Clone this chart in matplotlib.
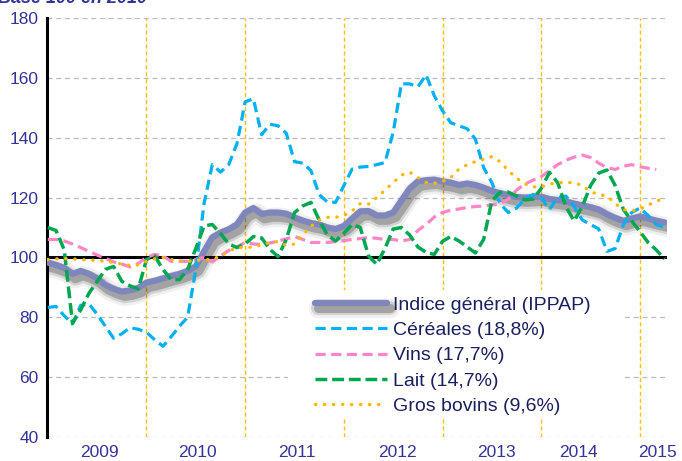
import numpy as np
import matplotlib.pyplot as plt
import matplotlib.patheffects as pe
from matplotlib.patches import Rectangle

# monthly index values, Jan 2009 = month 0
cereales = [83.3, 83.6, 80.5, 77.8, 84, 84.5, 81, 77, 73, 74.5, 76.5, 76,
            75, 72.5, 70.3, 73.5, 77, 80, 96, 118, 131, 128.5, 131, 138,
            152, 153, 141, 144.5, 144, 141.5, 132, 131.5, 129, 121, 118.5, 118.4,
            124, 129.5, 130.2, 130.4, 131, 131.7, 141.8, 158, 158, 157, 161, 154,
            149, 145, 144, 143, 139.5, 130, 125, 118, 115, 116.5, 119.5, 121,
            120, 116, 120, 120.5, 117, 112.5, 111, 109.5, 102, 103, 111, 115,
            116.5, 114, 111, 110]

ippap = [98.3, 97.5, 96.5, 94.5, 95.5, 94.5, 93, 90.8, 89.5, 88.6, 89, 89.8,
         91.6, 92.2, 93, 93.8, 94.5, 95.5, 97, 102, 106.7, 108.3, 109.4, 111,
         115, 116.5, 114.5, 115, 115, 114.6, 113.3, 112.3, 111.5, 111, 110, 109.5,
         110.5, 113, 115.4, 115.5, 114, 114, 115, 119, 123, 125.4, 125.8, 126,
         125.4, 125, 124.2, 124.7, 124.2, 123.3, 122.2, 121.5, 120.8, 120.2, 120, 120.2,
         120.3, 119.5, 119.2, 118.7, 118, 117.4, 116.8, 116, 114.4, 113.2, 112.2, 113,
         113.7, 113, 112.3, 111.7]

vins = [106, 106, 105.5, 104.5, 103.3, 102, 100.8, 99.7, 98.5, 97.8, 96.8, 98,
        100, 101, 100.5, 98.7, 98.7, 98.7, 99.3, 100, 98.5, 100.5, 102.3, 103.5,
        105, 104.5, 104.3, 104.8, 105.5, 106.2, 107, 106, 105, 105, 105, 105.3,
        105.6, 106, 106.3, 106.7, 106.4, 106, 106, 105.5, 106, 109, 111, 113.5,
        115, 115.8, 116.2, 116.7, 117, 117.2, 117.5, 118, 119.5, 122.5, 124.5, 125.8,
        127, 129, 131, 132.5, 133.5, 134.2, 133.4, 131.5, 130, 129.4, 130.5, 131,
        130.3, 129.8, 129.4]

lait = [110, 109, 102.5, 78, 82.5, 88, 92, 96, 97, 92, 90.5, 89.5,
        99.3, 100.5, 96, 92.6, 92.6, 96, 103, 110.5, 111, 108, 104.5, 103.3,
        104.5, 107, 106.5, 102.7, 100.3, 106, 115, 117.2, 118.4, 112.5, 107.5, 105.5,
        108, 111, 110, 100.5, 97.7, 103, 109.5, 110, 107.5, 103.5, 101.7, 101,
        105.4, 107, 105.5, 103.5, 101.5, 106, 119, 121.7, 121.8, 120.5, 119.2, 119.5,
        123, 128.4, 125, 117, 112.2, 117, 124, 128.2, 129.2, 124, 116, 112.2,
        108.7, 105, 102.5, 99.5]

bovins = [99.3, 99.5, 99.6, 99.5, 99.3, 99.1, 99, 98.7, 98.3, 97.8, 97.3, 97.5,
          98.7, 99.5, 100, 99.3, 98.8, 98.7, 99, 99.2, 99.3, 100.5, 102, 103.3,
          103.3, 103.5, 104.2, 105, 105.3, 104, 104.5, 107.5, 110.4, 112.5, 113.4, 113.4,
          114, 115.5, 118, 117.8, 120, 122.5, 125, 127.5, 128.5, 126.7, 125, 124.8,
          125.4, 126.7, 129.5, 131, 132, 132.8, 133.7, 132, 129, 126.5, 124.6, 123.6,
          123.5, 124.5, 125, 125, 125, 124, 122, 121, 120.5, 118, 116, 115.5,
          116.2, 117.5, 118.7, 120]

years = ["2009", "2010", "2011", "2012", "2013", "2014", "2015"]
year_ticks = [6.3, 18.2, 30.3, 42.5, 54.6, 64.5, 74.2]
year_starts = [12, 24, 36, 48, 60, 72]

navy = "#333399"

fig = plt.figure(figsize=(6.82, 4.61), dpi=100)
ax = fig.add_axes([47 / 682, 24 / 461, 620 / 682, 419 / 461])

ax.set_xlim(-0.1, 75.3)
ax.set_ylim(40, 180)
ax.set_yticks(range(40, 181, 20))
ax.yaxis.grid(True, color="#bbbbbb", linestyle=(0, (4, 3)), linewidth=0.9)
ax.set_axisbelow(True)
for x in year_starts:
    ax.axvline(x, color="#ffc000", linestyle=(0, (3, 2)), linewidth=1.0, zorder=1)
ax.axhline(100, color="black", linewidth=2.2, zorder=2)

for s in ["top", "right", "bottom"]:
    ax.spines[s].set_visible(False)
ax.spines["left"].set_linewidth(2.2)
ax.tick_params(axis="both", length=0, labelsize=12.5, colors=navy, pad=6)
ax.set_xticks(year_ticks)
ax.set_xticklabels(years)
for lab in ax.get_xticklabels() + ax.get_yticklabels():
    lab.set_fontfamily("Liberation Sans")

m = np.arange(len(ippap))
# blurred drop shadow under the general index
shadow = [pe.SimpleLineShadow(offset=(2, -3.5), shadow_color="black", alpha=0.06, linewidth=14),
          pe.SimpleLineShadow(offset=(2, -3.5), shadow_color="black", alpha=0.12, linewidth=10),
          pe.SimpleLineShadow(offset=(2, -3.5), shadow_color="black", alpha=0.22, linewidth=6.5),
          pe.Normal()]
ax.plot(m, ippap, color="#7f86bb", linewidth=4.5, solid_capstyle="round",
        path_effects=shadow, label="Indice général (IPPAP)", zorder=3)
ax.plot(np.arange(len(cereales)), cereales, color="#00b0f0", linewidth=2.3,
        linestyle=(0, (3.2, 1.7)), label="Céréales (18,8%)", zorder=5)
ax.plot(np.arange(len(vins)), vins, color="#ff85c4", linewidth=2.3,
        linestyle=(0, (3.2, 1.7)), label="Vins (17,7%)", zorder=4)
ax.plot(np.arange(len(lait)), lait, color="#00a650", linewidth=2.5,
        linestyle=(0, (3.4, 1.4)), label="Lait (14,7%)", zorder=5)
ax.plot(np.arange(len(bovins)), bovins, color="#ffb800", linewidth=2.4,
        linestyle=(0, (0.1, 2.6)), dash_capstyle="round", label="Gros bovins (9,6%)", zorder=5)

# white box behind the legend
ax.add_patch(Rectangle((241 / 620, 19 / 419), 334 / 620, 128 / 419, transform=ax.transAxes,
                       facecolor="white", edgecolor="none", zorder=7))

leg = ax.legend(loc="upper left", bbox_to_anchor=(268 / 620, 141 / 419),
                frameon=False, handlelength=3.7, handletextpad=0.3, labelspacing=0.4,
                borderpad=0, borderaxespad=0, prop={"family": "Liberation Sans", "size": 14})
for t in leg.get_texts():
    t.set_color("#1a1f5e")
leg.set_zorder(8)

fig.text(-0.003, 1 - 3 / 461, "Base 100 en 2010", fontsize=13, fontweight="bold",
         fontstyle="italic", color=navy, family="Liberation Sans", va="baseline")

fig.savefig("out.png", dpi=100)
